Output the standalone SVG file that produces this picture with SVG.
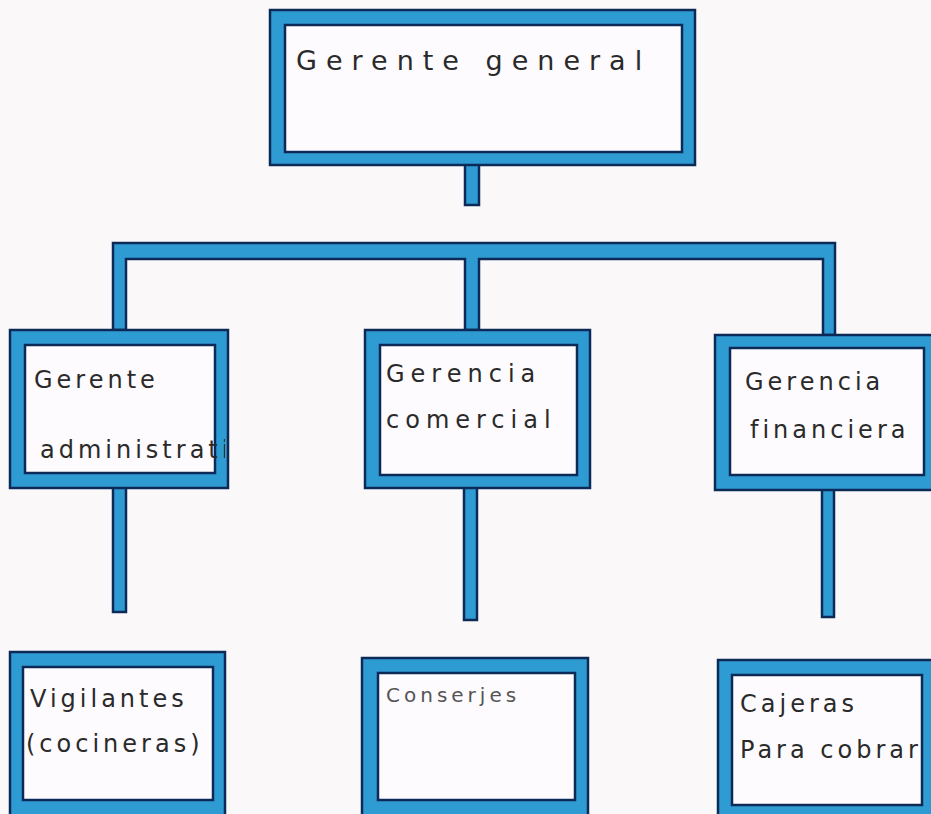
<svg xmlns="http://www.w3.org/2000/svg" width="931" height="814" viewBox="0 0 931 814">
<style>
.frame{fill:#2f9bd3;stroke:#0c2a57;stroke-width:2.5}
.inner{fill:#fdfbfd;stroke:#0c2a57;stroke-width:2.5}
.conn{fill:#2f9bd3;stroke:#0c2a57;stroke-width:2.5;stroke-linejoin:miter}
.t{font-family:"DejaVu Sans","Liberation Sans",sans-serif;fill:#2a2a2a;font-size:24px;letter-spacing:4px}
</style>
<defs>
<clipPath id="c1"><rect x="25" y="345" width="200" height="128"/></clipPath>
<clipPath id="c2"><rect x="730" y="348" width="199" height="127"/></clipPath>
</defs>
<rect width="931" height="814" fill="#fbf8fa"/>
<g id="connectors">
<path class="conn" d="M465,163 V205 H479 V163 Z"/>
<path class="conn" d="M113,330 V243 H835 V335 H823 V259 H479 V330 H465 V259 H126 V330 Z"/>
<path class="conn" d="M113,487 V612 H126 V487 Z"/>
<path class="conn" d="M464,487 V620 H477 V487 Z"/>
<path class="conn" d="M822,489 V617 H834 V489 Z"/>
</g>
<g id="gerente-general">
<rect class="frame" x="270" y="10" width="425" height="155"/>
<rect class="inner" x="285" y="25" width="397" height="127"/>
<text class="t" x="296" y="70" style="font-size:27px;letter-spacing:9px">Gerente general</text>
</g>
<g id="gerente-administrativo">
<rect class="frame" x="10" y="330" width="218" height="158"/>
<rect class="inner" x="25" y="345" width="190" height="128"/>
<text class="t" x="34" y="388">Gerente</text>
<text class="t" x="40" y="458" clip-path="url(#c1)">administrativo</text>
</g>
<g id="gerencia-comercial">
<rect class="frame" x="365" y="330" width="225" height="158"/>
<rect class="inner" x="380" y="345" width="197" height="130"/>
<text class="t" x="386" y="382" style="letter-spacing:6px">Gerencia</text>
<text class="t" x="386" y="428" style="letter-spacing:6px">comercial</text>
</g>
<g id="gerencia-financiera">
<rect class="frame" x="715" y="335" width="220" height="155"/>
<rect class="inner" x="730" y="348" width="194" height="127"/>
<text class="t" x="745" y="390">Gerencia</text>
<text class="t" x="750" y="438" clip-path="url(#c2)">financiera</text>
</g>
<g id="vigilantes">
<rect class="frame" x="10" y="652" width="215" height="166"/>
<rect class="inner" x="23" y="667" width="190" height="133"/>
<text class="t" x="30" y="707">Vigilantes</text>
<text class="t" x="26" y="752">(cocineras)</text>
</g>
<g id="conserjes">
<rect class="frame" x="362" y="658" width="226" height="160"/>
<rect class="inner" x="378" y="673" width="197" height="127"/>
<text class="t" x="386" y="702" style="fill:#555;font-size:20px">Conserjes</text>
</g>
<g id="cajeras">
<rect class="frame" x="718" y="660" width="217" height="158"/>
<rect class="inner" x="732" y="675" width="190" height="130"/>
<text class="t" x="740" y="712">Cajeras</text>
<text class="t" x="740" y="758">Para cobrar</text>
</g>
</svg>
